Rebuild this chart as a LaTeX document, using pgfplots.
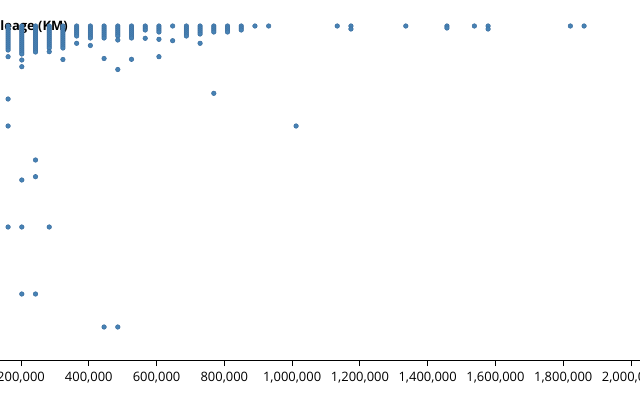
\documentclass[border=0pt]{standalone}
\usepackage{pgfplots}
\usepackage{pgfplotstable}
\pgfplotsset{compat=1.18}
\usepackage{fontspec}
\setmainfont{Open Sans}
\definecolor{steel}{HTML}{4682B4}
\definecolor{steeldark}{HTML}{3E6FA0}
\pgfplotstableread{
x y
161874 334
161874 332
161874 330
161874 328
161874 326
161874 324
161874 322
161874 320
161874 318
161874 316
161874 314
161874 312
161874 310
161874 303.3
161874 261
161874 234
161874 133
202343 334
202343 332
202343 330
202343 328
202343 326
202343 324
202343 322
202343 320
202343 318
202343 316
202343 314
202343 312
202343 310
202343 308
202343 306
202343 300
202343 293.3
202343 180
202343 133
202343 66
242812 334
242812 332
242812 330
242812 328
242812 326
242812 324
242812 322
242812 320
242812 318
242812 316
242812 314
242812 312
242812 310
242812 308
242812 200
242812 183.3
242812 66
283280 334
283280 332
283280 330
283280 328
283280 326
283280 324
283280 322
283280 320
283280 318
283280 316
283280 314
283280 312
283280 308.3
283280 133
323749 334
323749 332
323749 330
323749 328
323749 326
323749 324
323749 322
323749 320
323749 318
323749 316
323749 314
323749 312
323749 300.5
364217 334
364217 332
364217 330
364217 328
364217 326
364217 324
364217 316.7
404686 334
404686 332
404686 330
404686 328
404686 326
404686 324
404686 322
404686 314.5
445155 334
445155 332
445155 330
445155 328
445155 326
445155 324
445155 322
445155 301.5
445155 33
485623 334
485623 332
485623 330
485623 328
485623 326
485623 324
485623 320
485623 290.5
485623 33
526092 334
526092 332
526092 330
526092 328
526092 326
526092 324
526092 322
526092 300.7
566560 334
566560 332
566560 330
566560 321.7
607029 334
607029 332
607029 330
607029 328
607029 320.7
607029 303.3
647498 334
647498 319.3
687966 334
687966 332
687966 330
687966 328
687966 326
687966 324
728435 334
728435 332
728435 330
728435 328
728435 326
728435 316.7
768903 334
768903 332
768903 330
768903 328
768903 266.7
809372 334
809372 332
809372 330
809372 328
849841 334
849841 332
849841 330
890309 334
930778 334
1011715 234
1133121 334
1173589 334
1173589 331
1335464 334
1456870 334
1456870 332
1537807 334
1578275 334
1578275 331
1821087 334
1861556 334
}\data
\begin{document}
\begin{tikzpicture}
\node[anchor=base east, font=\bfseries\fontsize{13}{15}\selectfont, inner sep=0pt] at (68bp,329bp) {Mileage (KM)};
\begin{axis}[
  at={(0,0)}, anchor=south west,
  scale only axis, width=640bp, height=360bp,
  xmin=138033, xmax=2026560, ymin=0, ymax=360,
  axis x line*=bottom, axis y line=none,
  x axis line style={black, line width=0.8bp},
  scaled x ticks=false,
  xtick={200000,400000,600000,800000,1000000,1200000,1400000,1600000,1800000,2000000},
  xticklabels={{200,000},{400,000},{600,000},{800,000},{1,000,000},{1,200,000},{1,400,000},{1,600,000},{1,800,000},{2,000,000}},
  tick align=outside, major tick length=6bp,
  x tick style={black, line width=0.8bp},
  x tick label style={font=\fontsize{13}{15}\selectfont, text=black, inner sep=2pt, yshift=-4bp},
  clip=false,
]
\addplot[only marks, mark=*, mark size=2.3pt, mark options={fill=steel, draw=steeldark, line width=0.5pt}] table {\data};
\end{axis}
\pgfresetboundingbox
\path[use as bounding box] (0,-40bp) rectangle (640bp,360bp);
\end{tikzpicture}
\end{document}
